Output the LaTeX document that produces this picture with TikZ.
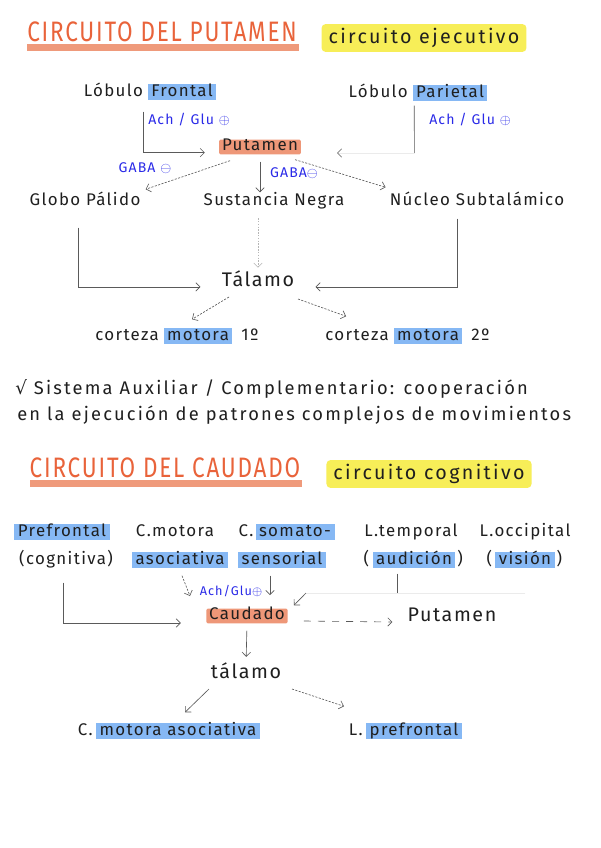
\documentclass[tikz,border=0pt]{standalone}
\usepackage{fontspec}
\usepackage{tikz}
\usetikzlibrary{positioning}
\usetikzlibrary{arrows.meta}

\newfontfamily\hand[LetterSpace=8]{Fira Sans}
\newfontfamily\handwide[LetterSpace=12]{Fira Sans}
\newfontfamily\symb{DejaVu Sans}

\definecolor{ink}{HTML}{1F1F1F}
\definecolor{penblue}{HTML}{2A2AE8}
\definecolor{hlblue}{HTML}{86B8F4}
\definecolor{hlsalmon}{HTML}{EE9778}
\definecolor{hlyellow}{HTML}{F7EE58}
\definecolor{titleorange}{HTML}{E9633A}
\definecolor{titlebar}{HTML}{EF9A7B}
\definecolor{lineg}{HTML}{5A5A5A}

\begin{document}
\begin{tikzpicture}[
				x=0.025cm, y=-0.025cm,
				txt/.style={inner sep=0pt, text=ink, font=\hand\fontsize{12}{14}\selectfont, text height=9pt, text depth=3pt},
				big/.style={txt, font=\hand\fontsize{14}{16}\selectfont},
				hl/.style={txt, fill=hlblue, inner xsep=2.5pt},
				boxsal/.style={txt, fill=hlsalmon, inner xsep=2pt, text height=8pt, text depth=2.5pt, rounded corners=1pt},
				title/.style={inner sep=0pt, text=titleorange, font=\hand\fontsize{16}{18}\selectfont},
				tag/.style={inner xsep=5pt, inner ysep=3pt, fill=hlyellow, rounded corners=3pt, text=ink, font=\handwide\fontsize{14}{16}\selectfont},
				note/.style={inner sep=0pt, text=penblue, font=\hand\fontsize{10}{12}\selectfont},
				line/.style={draw=lineg, line width=0.45pt},
				conn/.style={line, -{Straight Barb[length=3pt,width=6pt]}},
				dconn/.style={conn, dash pattern=on 1.5pt off 1pt},
				ldconn/.style={conn, dash pattern=on 5pt off 5pt},
				dotconn/.style={conn, draw=lineg!45, dash pattern=on 1pt off 1pt},
				faint/.style={draw=lineg!12, line width=0.45pt},
				faintconn/.style={faint, -{Straight Barb[length=3pt,width=6pt,color=lineg]}}
			]

			\useasboundingbox (0,0) rectangle (600,848);
			\fill[white] (0,0) rectangle (600,848);

			% Circuito del putamen
			\fill[titlebar] (27,44) rectangle (299,51);
			\node[title] (t1) at (162,32) {\scalebox{1}[1.25]{CIRCUITO DEL PUTAMEN}};
			\node[tag] (tag1) at (424,38) {circuito ejecutivo};

			\node[hl] (front) at (182,92) {Frontal};
			\node[txt, left=3pt of front] (lob1) {Lóbulo};
			\node[hl] (pari) at (450,93) {Parietal};
			\node[txt, left=3pt of pari] (lob2) {Lóbulo};

			\node[boxsal] (put) at (260,147) {Putamen};
			\node[note] (ach1) at (189,120) {Ach / Glu $\oplus$};
			\node[note] (ach2) at (470,120) {Ach / Glu $\oplus$};
			\node[note] (gaba1) at (145,168) {GABA $\ominus$};
			\node[note] (gaba2) at (294,173) {GABA$\ominus$};

			\node[txt] (gp) at (85,201) {Globo Pálido};
			\node[txt] (sn) at (274,201) {Sustancia Negra};
			\node[txt] (nst) at (477,201) {Núcleo Subtalámico};

			\node[big] (tal) at (258,282) {Tálamo};

			\node[hl] (mot1) at (198,336) {motora};
			\node[txt, left=3pt of mot1] (cor1) {corteza};
			\node[txt, right=6pt of mot1] (one) {1º};
			\node[hl] (mot2) at (428,336) {motora};
			\node[txt, left=3pt of mot2] (cor2) {corteza};
			\node[txt, right=6pt of mot2] (two) {2º};

			% Entradas al putamen
			\draw[conn, shorten >=10pt] ([shift={(-4,11)}]front.south west) |- ([yshift=-4pt]put.west);
			\coordinate (parin) at (337,153);
			\draw[line] ([shift={(2,4)}]pari.south west) -- ([xshift=1.5pt]pari.south west |- parin);
			\draw[faintconn] ([xshift=1.5pt]pari.south west |- parin) -- (parin);

			% Salidas del putamen
			\draw[dconn] ([shift={(-30,6)}]put.south) -- ([shift={(5,-3)}]gp.north east);
			\draw[conn, shorten <=5pt] (put.south) -- (put.south |- sn.north);
			\draw[dconn] ([shift={(-6,5)}]put.south east) -- ([shift={(-4,-5)}]nst.north west);

			% Hacia el tálamo
			\draw[conn, shorten >=15pt] ([shift={(-7,18)}]gp.south) |- ([yshift=-3.5pt]tal.west);
			\draw[conn, shorten >=15pt] ([shift={(-20,9)}]nst.south) |- ([yshift=-3.5pt]tal.east);
			\draw[dotconn, shorten <=6pt, shorten >=4pt] (tal.north |- sn.south) -- (tal.north);

			% Tálamo a corteza
			\draw[dconn] ([shift={(-29,15)}]tal.center) -- ([shift={(-6,-8)}]mot1.north);
			\draw[dconn] ([shift={(40,17)}]tal.center) -- ([shift={(-11,-11)}]cor2.north);

			\node[txt, anchor=west, font=\handwide\fontsize{13}{15}\selectfont] (sis1) at (15,390) {{\symb √} Sistema Auxiliar / Complementario: cooperación};
			\node[txt, anchor=west, font=\handwide\fontsize{13}{15}\selectfont] (sis2) at (17,416) {en la ejecución de patrones complejos de movimientos};

			% Circuito del caudado
			\fill[titlebar] (30,480) rectangle (302,487);
			\node[title] (t2) at (165,468) {\scalebox{1}[1.25]{CIRCUITO DEL CAUDADO}};
			\node[tag] (tag2) at (429,474) {circuito cognitivo};

			\node[hl] (pref) at (62,532) {Prefrontal};
			\node[txt] (cmot) at (175,532) {C.motora};
			\node[hl] (soma) at (295,532) {somato-};
			\node[txt, left=1pt of soma] (csom) {C.};
			\node[txt] (ltem) at (411,532) {L.temporal};
			\node[txt] (locc) at (525,532) {L.occipital};

			\node[txt] (cogn) at (66,560) {(cognitiva)};
			\node[hl] (asoc) at (180,560) {asociativa};
			\node[hl] (sens) at (282,560) {sensorial};
			\node[hl] (audi) at (414,560) {audición};
			\node[txt, left=2pt of audi] (aud1) {(};
			\node[txt, right=1pt of audi] (aud2) {)};
			\node[hl] (visi) at (525,560) {visión};
			\node[txt, left=2pt of visi] (vis1) {(};
			\node[txt, right=1pt of visi] (vis2) {)};

			\node[boxsal] (cau) at (247,616) {Caudado};
			\node[note, font=\hand\fontsize{9}{11}\selectfont] (ach3) at (231,591) {Ach/Glu$\oplus$};
			\node[big] (put2) at (452,617) {Putamen};
			\node[big] (tal2) at (246,674) {tálamo};

			\node[hl] (cma) at (178,731) {motora asociativa};
			\node[txt, left=2pt of cma] (cma0) {C.};
			\node[hl] (lpf) at (414,731) {prefrontal};
			\node[txt, left=2pt of lpf] (lpf0) {L.};

			% Entradas al caudado
			\draw[conn, shorten >=18pt] ([shift={(-3,14)}]cogn.south) |- ([yshift=-5pt]cau.west);
			\coordinate (asoin) at (190,596);
			\draw[dconn] ([shift={(2,7)}]asoc.south) -- (asoin);
			\coordinate (senin) at (270,595);
			\draw[conn] ([shift={(-12,7)}]sens.south) -- (senin);
			\coordinate (cjoin) at (306,593);
			\coordinate (tdrop) at ([shift={(-17,5)}]audi.south);
			\draw[line] (tdrop) -- (tdrop |- cjoin);
			\draw[faint] (visi.south |- cjoin) -- (cjoin);
			\draw[conn] (cjoin) -- ([shift={(6,-3)}]cau.north east);

			% Salidas del caudado
			\draw[ldconn] ([shift={(16,5)}]cau.east) -- ([shift={(-15,5)}]put2.west);
			\draw[conn, shorten <=5pt, shorten >=6pt] (cau.south) -- (tal2.north);
			\draw[conn] ([shift={(-37,15)}]tal2.center) -- ([shift={(7,-10)}]cma.north);
			\draw[dconn] ([shift={(46,15)}]tal2.center) -- ([shift={(-70,-16)}]lpf.north);

		\end{tikzpicture}
\end{document}
